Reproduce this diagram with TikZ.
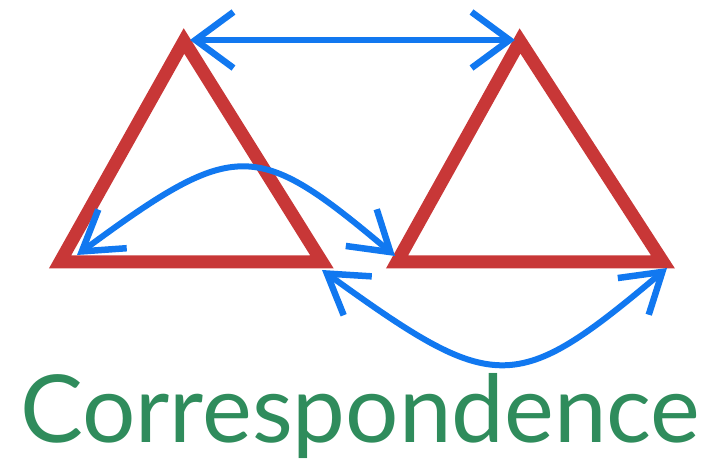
\documentclass[tikz,border=0pt]{standalone}
\usepackage{fontspec}
\setmainfont{Lato}
\usetikzlibrary{arrows.meta}
\definecolor{tri}{RGB}{200,55,55}
\definecolor{arr}{RGB}{17,120,240}
\definecolor{txt}{RGB}{47,140,92}
\tikzset{
  barb/.tip={Straight Barb[length=38pt,width=48pt,line width=6.5pt]},
  widebarb/.tip={Straight Barb[length=38pt,width=56pt,line width=6.5pt]}}
\begin{document}
\begin{tikzpicture}[x=1pt,y=-1pt,
  trianglestyle/.style={draw=tri,line width=13pt,line join=miter},
  arrowstyle/.style={draw=arr,line width=6pt,barb-barb},
  toparrow/.style={draw=arr,line width=6pt,widebarb-widebarb}]
\useasboundingbox (0,0) rectangle (715,470);
% triangles
\coordinate (a1) at (184,41);
\coordinate (b1) at (60,262);
\coordinate (c1) at (322,262);
\coordinate (a2) at (520,41);
\coordinate (b2) at (397,262);
\coordinate (c2) at (663,262);
\draw[trianglestyle] (a1) -- (b1) -- (c1) -- cycle;
\draw[trianglestyle] (a2) -- (b2) -- (c2) -- cycle;
% arrow ends
\coordinate (t1) at (190,40);
\coordinate (t2) at (515,40);
\coordinate (l1) at (77,255);
\coordinate (l2) at (395,256);
\coordinate (r1) at (322,270);
\coordinate (r2) at (667,268);
\draw[toparrow] (t1) -- (t2);
\draw[arrowstyle] (l1) .. controls (236,138) and (256,139) .. (l2);
\draw[arrowstyle] (r1) .. controls (495,395) and (515,396) .. (r2);
% title
\node[anchor=base west, text=txt, inner sep=0pt] (title) at (20,442)
  {\resizebox{680pt}{69pt}{Correspondence}};
\end{tikzpicture}
\end{document}
